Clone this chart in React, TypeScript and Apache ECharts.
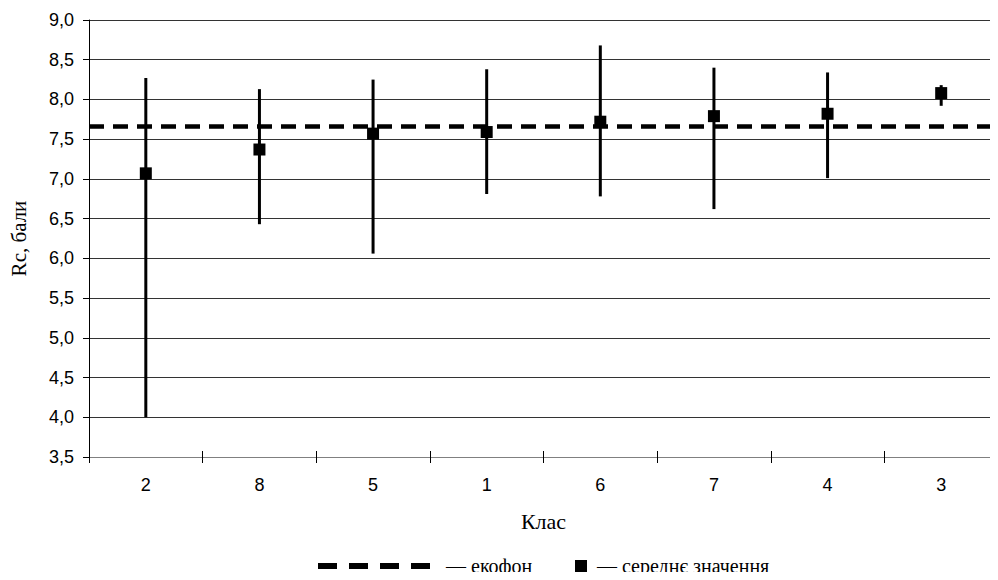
import React, { useEffect, useRef } from "react";
import * as echarts from "echarts";

const categories = ["2", "8", "5", "1", "6", "7", "4", "3"];
const meanValues = [7.07, 7.37, 7.57, 7.59, 7.72, 7.79, 7.82, 8.08];
const lowValues = [4.0, 6.43, 6.06, 6.81, 6.78, 6.62, 7.01, 7.92];
const highValues = [8.27, 8.13, 8.25, 8.38, 8.68, 8.4, 8.34, 8.18];
const ecofon = 7.66;

const fmt = (v: number) => v.toFixed(1).replace(".", ",");

export default function App() {
  const ref = useRef<HTMLDivElement>(null);
  useEffect(() => {
    if (!ref.current) return;
    const chart = echarts.init(ref.current, undefined, { renderer: "svg" });
    const errData = categories.map((_, i) => [i, lowValues[i], highValues[i]]);
    const axisFont = { fontFamily: "Liberation Sans, Arial, sans-serif", fontSize: 18, color: "#000" };
    const serif = "Liberation Serif, Times New Roman, serif";
    chart.setOption({
      animation: false,
      backgroundColor: "#fff",
      grid: { left: 88, top: 20, width: 920, height: 437, containLabel: false },
      xAxis: [
        {
          type: "category",
          data: categories,
          boundaryGap: true,
          name: "Клас",
          nameLocation: "middle",
          nameGap: 53,
          nameTextStyle: { fontFamily: serif, fontSize: 22, color: "#000" },
          axisLine: { lineStyle: { color: "#808080", width: 1 } },
          axisTick: { show: true, length: 6, lineStyle: { color: "#000" } },
          axisLabel: { ...axisFont, margin: 19 },
          splitLine: { show: false },
        },
        {
          type: "category",
          data: categories,
          position: "bottom",
          boundaryGap: true,
          axisLine: { show: false },
          axisTick: { show: true, inside: true, length: 6, lineStyle: { color: "#000" } },
          axisLabel: { show: false },
          splitLine: { show: false },
        },
      ],
      yAxis: {
        type: "value",
        min: 3.5,
        max: 9,
        interval: 0.5,
        name: "Rc, бали",
        nameLocation: "middle",
        nameGap: 60,
        nameTextStyle: { fontFamily: serif, fontSize: 21, color: "#000" },
        axisLine: { show: true, lineStyle: { color: "#000", width: 1 } },
        axisTick: { show: true, length: 6, lineStyle: { color: "#000" } },
        axisLabel: { ...axisFont, margin: 15, formatter: (v: number) => fmt(v) },
        splitLine: { show: true, lineStyle: { color: "#333", width: 1 } },
      },
      series: [
        {
          type: "custom",
          name: "range",
          data: errData,
          renderItem: (params: any, api: any) => {
            const x = api.value(0);
            const p1 = api.coord([x, api.value(1)]);
            const p2 = api.coord([x, api.value(2)]);
            return {
              type: "line",
              shape: { x1: p1[0], y1: p1[1], x2: p2[0], y2: p2[1] },
              style: { stroke: "#000", lineWidth: 3 },
            };
          },
          z: 3,
        },
        {
          type: "scatter",
          name: "середнє значення",
          data: meanValues,
          symbol: "rect",
          symbolSize: 12,
          itemStyle: { color: "#000", opacity: 1 },
          z: 5,
          markLine: {
            silent: true,
            symbol: "none",
            label: { show: false },
            lineStyle: { color: "#000", type: [15, 9], width: 4.5, opacity: 1 },
            data: [{ yAxis: ecofon }],
          },
        },
      ],
      graphic: [
        {
          type: "line",
          shape: { x1: 318, y1: 566, x2: 435, y2: 566 },
          style: { stroke: "#000", lineWidth: 6, lineDash: [19, 12] },
        },
        {
          type: "text",
          x: 446,
          y: 566,
          style: { text: "— екофон", font: `20px ${serif}`, fill: "#000", verticalAlign: "middle" },
        },
        {
          type: "rect",
          shape: { x: 575, y: 560, width: 12, height: 12 },
          style: { fill: "#000" },
        },
        {
          type: "text",
          x: 597,
          y: 566,
          style: { text: "— середнє значення", font: `20px ${serif}`, fill: "#000", verticalAlign: "middle" },
        },
      ],
    });
    return () => chart.dispose();
  }, []);
  return <div ref={ref} style={{ width: 998, height: 580, margin: -8 }} />;
}
